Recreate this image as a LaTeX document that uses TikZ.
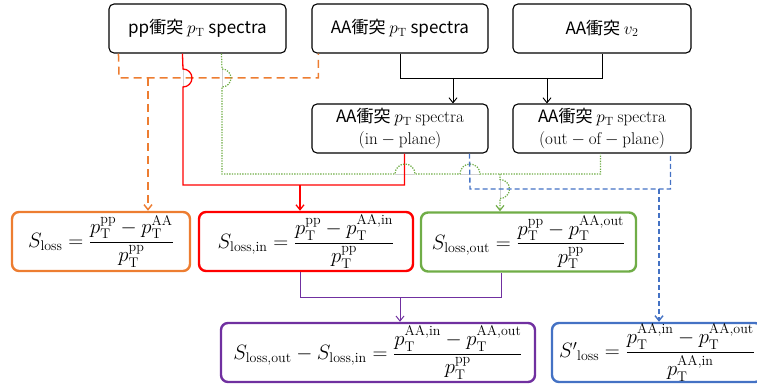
\documentclass[tikz,border=0pt]{standalone}
\usepackage{amsmath}
\usepackage{fontspec}
\newfontfamily\jp{Noto Sans CJK JP}
\usetikzlibrary{arrows.meta}
\definecolor{cOr}{HTML}{ED7D31}
\definecolor{cRe}{HTML}{FF0000}
\definecolor{cGr}{HTML}{70AD47}
\definecolor{cBl}{HTML}{4472C4}
\definecolor{cPu}{HTML}{7030A0}
\tikzset{
  topbox/.style={draw=black, line width=1.1pt, rounded corners=5pt, minimum height=49pt,
    inner sep=0pt, align=center, font=\jp\fontsize{17}{21}\selectfont},
  fbox/.style={line width=2.4pt, rounded corners=7pt, minimum height=59pt, inner sep=0pt,
    font=\fontsize{20}{24}\selectfont},
  arr/.style={-{Straight Barb[length=5pt,width=8pt]}},
  orline/.style={draw=cOr, line width=1.5pt, dash pattern=on 8pt off 5pt},
  reline/.style={draw=cRe, line width=1.3pt},
  grline/.style={draw=cGr, line width=1.2pt, dash pattern=on 1.3pt off 1.3pt},
  blline/.style={draw=cBl, line width=1.4pt, dash pattern=on 5pt off 3pt},
  puline/.style={draw=cPu, line width=1pt},
  bkline/.style={draw=black, line width=0.9pt},
  gap/.style={draw=gray!35, line width=0.5pt},
}
\newcommand{\pT}{p_{\mathrm{T}}}
\begin{document}
\begin{tikzpicture}[x=1pt,y=-1pt]
\useasboundingbox (0,0) rectangle (757,385);
% top boxes
\node[topbox, minimum width=177pt] (pp) at (197.5,28.5) {pp衝突 $\pT$ spectra};
\node[topbox, minimum width=176pt] (AA) at (400,28.5) {AA衝突 $\pT$ spectra};
\node[topbox, minimum width=178pt] (v2) at (602,28.5) {AA衝突 $v_2$};
% middle boxes
\node[topbox, minimum width=176pt] (inp) at (400,128.5) {AA衝突 $\pT\ \mathrm{spectra}$\\[1pt]$(\mathrm{in}-\mathrm{plane})$};
\node[topbox, minimum width=178pt] (outp) at (602,128.5) {AA衝突 $\pT\ \mathrm{spectra}$\\[1pt]$(\mathrm{out}-\mathrm{of}-\mathrm{plane})$};
% formula boxes
\node[fbox, draw=cOr, minimum width=178pt] (Sl) at (101,241.5)
  {$S_{\mathrm{loss}}=\dfrac{\pT^{\mathrm{pp}}-\pT^{\mathrm{AA}}}{\pT^{\mathrm{pp}}}$};
\node[fbox, draw=cRe, minimum width=214pt] (Sin) at (306,241.5)
  {$S_{\mathrm{loss,in}}=\dfrac{\pT^{\mathrm{pp}}-\pT^{\mathrm{AA,in}}}{\pT^{\mathrm{pp}}}$};
\node[fbox, draw=cGr, minimum width=215pt] (Sout) at (528.5,242)
  {$S_{\mathrm{loss,out}}=\dfrac{\pT^{\mathrm{pp}}-\pT^{\mathrm{AA,out}}}{\pT^{\mathrm{pp}}}$};
\node[fbox, draw=cPu, minimum width=314pt] (Sd) at (378,352.5)
  {$S_{\mathrm{loss,out}}-S_{\mathrm{loss,in}}=\dfrac{\pT^{\mathrm{AA,in}}-\pT^{\mathrm{AA,out}}}{\pT^{\mathrm{pp}}}$};
\node[fbox, draw=cBl, minimum width=210pt] (Sp) at (657,352.5)
  {${S'}_{\mathrm{loss}}=\dfrac{\pT^{\mathrm{AA,in}}-\pT^{\mathrm{AA,out}}}{\pT^{\mathrm{AA,in}}}$};
% junction coordinates
\coordinate (jk) at (400,78);
\coordinate (jo) at (148,78);
\coordinate (jr) at (300,185);
\coordinate (jg) at (500,174);
\coordinate (jb) at (659,189);
\coordinate (jp) at (400,297);
% black
\draw[bkline] (AA.south) -- (jk) -| (v2.south);
\draw[bkline, arr] (453,78) -- (453,78 |- inp.north);
\draw[bkline, arr] (547,78) -- (547,78 |- outp.north);
% gaps under jumps
\draw[gap] (183,69) -- (183,87);
\draw[gap] (222,69) -- (222,87);
\draw[gap] (395,174) -- (415,174);
\draw[gap] (460,174) -- (480,174);
\draw[gap] (500,179.5) -- (500,198.5);
% orange
\draw[orline] ([xshift=10pt]pp.south west) -- (119,78) -| ([xshift=7pt]AA.south west);
\draw[orline, arr] (jo) -- (jo |- Sl.north);
% red
\draw[reline] ([xshift=74pt]pp.south west) -- (183,69) arc[start angle=90, end angle=-90, radius=9pt]
  -- (183,185) -| ([xshift=93pt]inp.south west);
\draw[reline, arr] (jr) -- (jr |- Sin.north);
% green
\draw[grline] ([xshift=113pt]pp.south west) -- (222,69) arc[start angle=90, end angle=-90, radius=9pt]
  -- (222,174) -- (395,174) arc[start angle=180, end angle=0, radius=10pt]
  -- (460,174) arc[start angle=180, end angle=0, radius=10pt]
  -| ([xshift=88pt]outp.south west);
\draw[grline, arr] (jg) -- (500,179.5) arc[start angle=90, end angle=-90, radius=9.5pt]
  -- (jg |- Sout.north);
% blue
\draw[blline] ([xshift=158pt]inp.south west) -- (470,189) -| ([xshift=158pt]outp.south west);
\draw[blline, arr] (jb) -- (jb |- Sp.north);
% purple
\draw[puline] (jr |- Sin.south) -- (300,297) -| (501,0 |- Sout.south);
\draw[puline, arr] (jp) -- (jp |- Sd.north);
\end{tikzpicture}
\end{document}
